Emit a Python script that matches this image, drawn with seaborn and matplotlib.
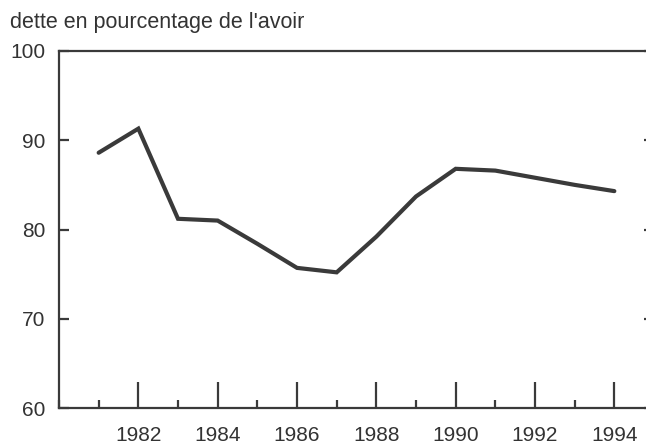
import seaborn as sns
import pandas as pd
import matplotlib.pyplot as plt
from matplotlib.ticker import MultipleLocator

# data
years = [1981, 1982, 1983, 1984, 1985, 1986, 1987, 1988, 1989, 1990, 1991, 1992, 1993, 1994]
debt_ratio = [88.6, 91.3, 81.2, 81.0, 78.4, 75.7, 75.2, 79.2, 83.7, 86.8, 86.6, 85.8, 85.0, 84.3]
year_labels = ["1982", "1984", "1986", "1988", "1990", "1992", "1994"]
y_ticks = [60, 70, 80, 90, 100]

df = pd.DataFrame({"year": years, "ratio": debt_ratio})

sns.set_style("white")
plt.rcParams["font.family"] = ["Liberation Sans", "DejaVu Sans"]

ink = "#3a3a3a"
fig = plt.figure(figsize=(6.46, 4.42), dpi=100)
# the right frame edge runs just past the picture, as in the scanned original
ax = fig.add_axes([59 / 646, 1 - 408 / 442, 595 / 646, 357 / 442])

sns.lineplot(data=df, x="year", y="ratio", ax=ax, color=ink, linewidth=3.0,
             errorbar=None, solid_joinstyle="miter")

ax.set_xlim(1980, 1995)
ax.set_ylim(60, 100)
ax.set_xlabel("")
ax.set_ylabel("")

ax.set_xticks([int(y) for y in year_labels])
ax.set_xticklabels(year_labels)
ax.xaxis.set_minor_locator(MultipleLocator(1))
ax.set_yticks(y_ticks)

for s in ax.spines.values():
    s.set_color(ink)
    s.set_linewidth(1.6)

ax.tick_params(axis="x", which="major", direction="in", length=19, width=1.6,
               color=ink, labelsize=15, labelcolor="#333333", pad=13,
               bottom=True)
ax.tick_params(axis="x", which="minor", direction="in", length=6, width=1.6,
               color=ink, bottom=True)
ax.tick_params(axis="y", which="major", direction="in", length=7, width=1.6,
               color=ink, labelsize=15, labelcolor="#333333", pad=10,
               left=True, right=True)

fig.text(10 / 646, 1 - 28 / 442, "dette en pourcentage de l'avoir",
         fontsize=15.5, color="#333333", va="baseline", ha="left")

plt.savefig("out.png", dpi=100)
plt.close()
